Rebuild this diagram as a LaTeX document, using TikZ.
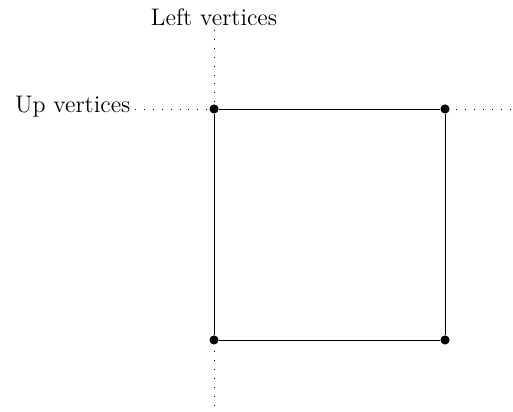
\documentclass[tikz,border=0pt]{standalone}
\usetikzlibrary{positioning}
\tikzset{
vertex/.style={circle,fill,inner sep=0pt,minimum size=4.5pt},
edge/.style={thin},
guide/.style={loosely dotted,thin},
caption/.style={inner sep=2pt,font=\fontsize{11.8}{14}\selectfont}
}
\begin{document}
\begin{tikzpicture}[x=1cm,y=1cm]
\useasboundingbox (-3.706,-1.247) rectangle (5.177,5.887);
\node[vertex](ll) at (0,0){};
\node[vertex](lr) at (4,0){};
\node[vertex](ul) at (0,4){};
\node[vertex](ur) at (4,4){};
\coordinate(vtop) at (0,5.37);
\coordinate(vbot) at (0,-1.21);
\coordinate(hleft) at (-1.37,4);
\coordinate(hright) at (5.177,4);
\node[caption,above=0pt of vtop](lefttext){Left vertices};
\node[caption,left=0pt of hleft,yshift=1pt](uptext){Up vertices};
\draw[guide](vtop)--(vbot);\draw[guide](hleft)--(hright);
\draw[edge](ll)--(lr);\draw[edge](lr)--(ur);\draw[edge](ur)--(ul);\draw[edge](ul)--(ll);
\end{tikzpicture}
\end{document}
